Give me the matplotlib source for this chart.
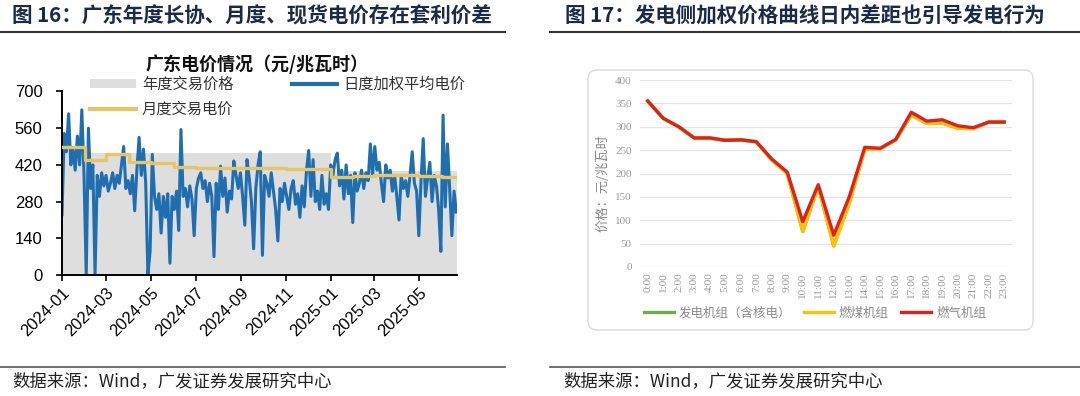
import numpy as np
import matplotlib
matplotlib.use('Agg')
import matplotlib.pyplot as plt
import matplotlib.dates as mdates
from matplotlib.patches import FancyBboxPatch, Patch
from matplotlib.lines import Line2D
from matplotlib.transforms import IdentityTransform

plt.rcParams['font.family'] = ['Noto Sans CJK SC', 'DejaVu Sans']

# ---------------- Left chart data ----------------
daily_start = '2024-01-01'
daily_step_days = 3
daily_price = [
    230, 540, 470, 615, 420, 480, 400, 530, 420, 630,
    380, 0, 560, 330, 420, 0, 380, 300, 390, 340,
    380, 320, 350, 390, 330, 380, 350, 420, 490, 330,
    360, 310, 380, 245, 400, 525, 380, 480, 350, 0,
    90, 460, 300, 250, 310, 160, 300, 220, 310, 45,
    300, 250, 320, 170, 555, 300, 330, 260, 340, 290,
    150, 330, 370, 390, 330, 360, 280, 350, 300, 70,
    350, 250, 415, 300, 370, 240, 320, 290, 435, 380,
    330, 390, 300, 190, 440, 370, 280, 100, 330, 420,
    470, 75, 380, 350, 300, 390, 320, 250, 130, 330,
    280, 350, 300, 250, 330, 360, 270, 310, 220, 340,
    260, 400, 475, 300, 440, 280, 320, 250, 380, 270,
    310, 250, 420, 380, 440, 465, 340, 400, 290, 420,
    310, 380, 200, 390, 320, 350, 400, 330, 390, 360,
    500, 380, 490, 400, 430, 350, 280, 420, 370, 400,
    320, 380, 300, 210, 380, 330, 360, 300, 380, 470,
    350, 320, 150, 360, 520, 300, 370, 430, 280, 380,
    340, 250, 90, 610, 260, 500, 330, 150, 320, 240,
]
month_starts = ['2024-01', '2024-02', '2024-03', '2024-04', '2024-05', '2024-06',
                '2024-07', '2024-08', '2024-09', '2024-10', '2024-11', '2024-12',
                '2025-01', '2025-02', '2025-03', '2025-04', '2025-05', '2025-06']
monthly_price = [488, 437, 462, 430, 428, 412, 410, 409, 410, 408, 406, 403,
                 375, 376, 380, 380, 377, 375]
annual_starts = ['2024-01-01', '2025-01-01']
annual_price = [465, 395]
end_date = '2025-06-22'
left_yticks = [0, 140, 280, 420, 560, 700]

# ---------------- Right chart data ----------------
hours = ['0:00', '1:00', '2:00', '3:00', '4:00', '5:00', '6:00', '7:00', '8:00', '9:00',
         '10:00', '11:00', '12:00', '13:00', '14:00', '15:00', '16:00', '17:00', '18:00',
         '19:00', '20:00', '21:00', '22:00', '23:00']
all_units = [355, 318, 300, 276, 276, 271, 272, 268, 229, 200, 76, 172, 45, 136, 252, 253,
             272, 325, 307, 308, 297, 296, 310, 310]
coal_units = [355, 318, 300, 276, 276, 271, 272, 268, 229, 200, 76, 172, 45, 136, 252, 253,
              272, 325, 307, 308, 297, 296, 310, 310]
gas_units = [355, 318, 300, 276, 276, 271, 272, 268, 231, 203, 97, 176, 68, 150, 256, 254,
             273, 331, 312, 315, 302, 298, 310, 310]

W, H = 1080, 396
fig = plt.figure(figsize=(W / 100, H / 100), dpi=100)

def fx(x):
    return x / W

def fy(y):
    return 1 - y / H

title_color = '#1B2A47'
cjk = ['Noto Sans CJK SC', 'DejaVu Sans']

# headers & footers
fig.text(fx(12), fy(16), '图 16：广东年度长协、月度、现货电价存在套利价差', fontsize=14.8,
         fontweight='bold', color=title_color, va='center', ha='left', family=cjk)
fig.text(fx(565), fy(16), '图 17：发电侧加权价格曲线日内差距也引导发电行为', fontsize=14.8,
         fontweight='bold', color=title_color, va='center', ha='left', family=cjk)
for (x0, x1) in [(0, 505), (550, 1080)]:
    fig.add_artist(Line2D([fx(x0), fx(x1)], [fy(32), fy(32)], color='#333333', lw=1.5,
                          transform=fig.transFigure))
    fig.add_artist(Line2D([fx(x0), fx(x1)], [fy(367), fy(367)], color='#555555', lw=1.2,
                          transform=fig.transFigure))
fig.text(fx(12), fy(381), '数据来源：Wind，广发证券发展研究中心', fontsize=12.5,
         color='#222222', va='center', ha='left', family=cjk)
fig.text(fx(563), fy(381), '数据来源：Wind，广发证券发展研究中心', fontsize=12.5,
         color='#222222', va='center', ha='left', family=cjk)

# ---------------- Left chart ----------------
ax = fig.add_axes([fx(62), fy(275), fx(457 - 62), (275 - 91.5) / H])
d0 = np.datetime64(daily_start)
daily_dates = d0 + np.arange(len(daily_price)) * np.timedelta64(daily_step_days, 'D')
end = np.datetime64(end_date)

ann_x = [np.datetime64(a) for a in annual_starts] + [end]
ann_y = annual_price + [annual_price[-1]]
ax.fill_between(ann_x, 0, ann_y, step='post', color='#DEDEDE', lw=0, zorder=1)

m_x = [np.datetime64(m + '-01') for m in month_starts] + [end]
m_y = monthly_price + [monthly_price[-1]]
ax.step(m_x, m_y, where='post', color='#E6C664', lw=2.4, zorder=3)
ax.plot(daily_dates, daily_price, color='#1F6FB0', lw=2.2, zorder=2)

ax.set_xlim(np.datetime64('2024-01-01'), end)
ax.set_ylim(0, 700)
ax.set_yticks(left_yticks)
ax.xaxis.set_major_locator(mdates.MonthLocator(bymonth=[1, 3, 5, 7, 9, 11]))
ax.xaxis.set_major_formatter(mdates.DateFormatter('%Y-%m'))
for s in ['top', 'right']:
    ax.spines[s].set_visible(False)
for s in ['left', 'bottom']:
    ax.spines[s].set_linewidth(1.4)
    ax.spines[s].set_color('black')
ax.tick_params(axis='both', direction='out', length=4, width=1.2, labelsize=12)
ax.tick_params(axis='y', pad=10)
for lab in ax.get_xticklabels():
    lab.set_rotation(45)
    lab.set_ha('right')
    lab.set_rotation_mode('anchor')
    lab.set_family(['Liberation Sans'])
for lab in ax.get_yticklabels():
    lab.set_family(['Liberation Sans'])
ax.set_facecolor('none')

fig.text(fx(257), fy(64), '广东电价情况（元/兆瓦时）', fontsize=13, fontweight='bold',
         color='#111111', ha='center', va='center', family=cjk)

handles = [Patch(facecolor='#DEDEDE', edgecolor='none'),
           Line2D([], [], color='#E6C664', lw=3),
           Line2D([], [], color='#1F6FB0', lw=3)]
labels = ['年度交易价格', '月度交易电价', '日度加权平均电价']
leg = fig.legend(handles, labels, ncol=2, loc='upper left',
                 bbox_to_anchor=(fx(90), fy(76)), frameon=False, fontsize=11,
                 handlelength=3.0, handleheight=0.6, columnspacing=3.8,
                 labelspacing=0.5, handletextpad=0.4, borderaxespad=0, borderpad=0)
for t in leg.get_texts():
    t.set_color('#333333')

# ---------------- Right chart ----------------
box = FancyBboxPatch((588, H - 330), 1033 - 588, 330 - 70,
                     boxstyle='round,pad=0,rounding_size=9', transform=IdentityTransform(),
                     facecolor='white', edgecolor='#DADADA', lw=1.0, zorder=0)
fig.add_artist(box)

ax2 = fig.add_axes([fx(640), fy(267), fx(1012 - 640), (267 - 80) / H])
ax2.set_facecolor('none')
xpos = np.arange(len(hours))
ax2.plot(xpos, all_units, color='#70AD47', lw=2.4, zorder=3)
ax2.plot(xpos, coal_units, color='#FFC000', lw=2.4, zorder=4)
ax2.plot(xpos, gas_units, color='#E0201B', lw=2.4, zorder=5)
ax2.set_xlim(-0.5, len(hours) - 0.5)
ax2.set_ylim(0, 400)
ax2.set_yticks(np.arange(0, 401, 50))
ax2.set_xticks(xpos)
ax2.set_xticklabels(hours, rotation=90, fontsize=8, color='#9A9A9A',
                    family=['Liberation Serif'])
for lab in ax2.get_yticklabels():
    lab.set_family(['Liberation Serif'])
ax2.tick_params(axis='y', labelsize=8, labelcolor='#9A9A9A', length=0, pad=6)
ax2.tick_params(axis='x', length=0, pad=4)
ax2.grid(axis='y', color='#E4E4E4', lw=0.9)
ax2.set_axisbelow(True)
for s in ax2.spines.values():
    s.set_visible(False)

fig.text(fx(603), fy(183), '价格：元/兆瓦时', rotation=90, fontsize=9.5, color='#8A8A8A',
         ha='center', va='center', family=cjk)

h2 = [Line2D([], [], color='#70AD47', lw=2.4),
      Line2D([], [], color='#FFC000', lw=2.4),
      Line2D([], [], color='#E0201B', lw=2.4)]
l2 = ['发电机组（含核电）', '燃煤机组', '燃气机组']
leg2 = fig.legend(h2, l2, ncol=3, loc='center', bbox_to_anchor=(fx(815), fy(313)),
                  frameon=False, fontsize=9, handlelength=2.4, handletextpad=0.4,
                  columnspacing=1.0, borderpad=0)
for t in leg2.get_texts():
    t.set_color('#8A8A8A')

fig.savefig('out.png', dpi=100)
